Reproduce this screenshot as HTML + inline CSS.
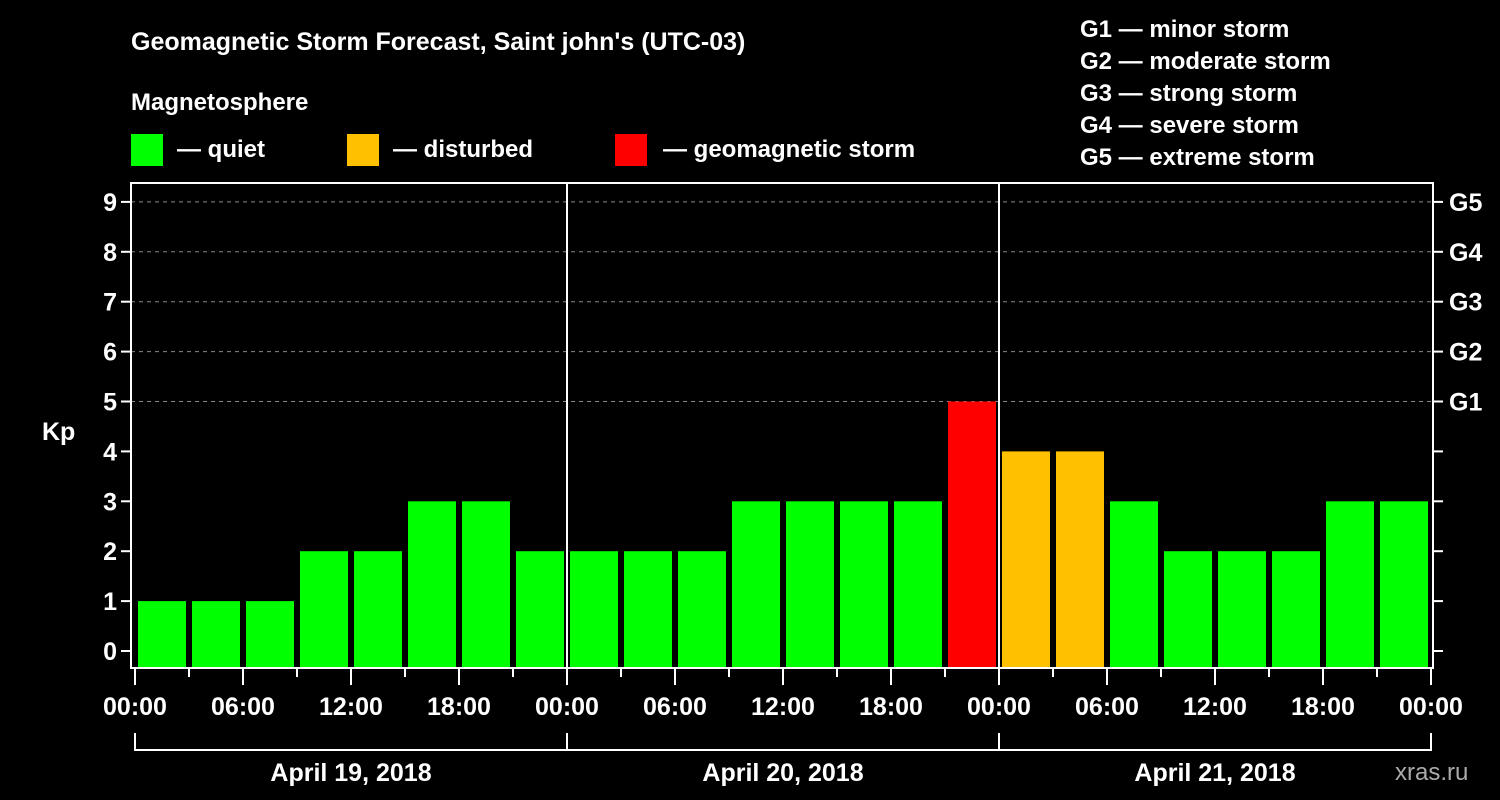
<!DOCTYPE html>
<html><head><meta charset="utf-8"><style>
body{margin:0;background:#000;}
svg{display:block;font-family:"Liberation Sans",sans-serif;font-weight:bold;fill:#fff;}
</style></head><body>
<svg width="1500" height="800">
<rect width="1500" height="800" fill="#000"/>
<text x="131" y="50" font-size="25">Geomagnetic Storm Forecast, Saint john's (UTC-03)</text>
<text x="131" y="110" font-size="24">Magnetosphere</text>
<g><rect x="131" y="134" width="32" height="32" fill="#00ff00"/><text x="177" y="157" font-size="24">— quiet</text></g>
<g><rect x="347" y="134" width="32" height="32" fill="#ffc000"/><text x="393" y="157" font-size="24">— disturbed</text></g>
<g><rect x="615" y="134" width="32" height="32" fill="#ff0000"/><text x="663" y="157" font-size="24">— geomagnetic storm</text></g>
<g font-size="24">
<text x="1080" y="37">G1 — minor storm</text>
<text x="1080" y="69">G2 — moderate storm</text>
<text x="1080" y="101">G3 — strong storm</text>
<text x="1080" y="133">G4 — severe storm</text>
<text x="1080" y="165">G5 — extreme storm</text>
</g>
<text x="42" y="440" font-size="25">Kp</text>
<g id="plot"></g>
<text x="1395" y="780" font-size="24" fill="#aaa" style="fill:#aaa;font-weight:normal">xras.ru</text>
</svg>
<script>
const values=[1,1,1,2,2,3,3,2, 2,2,2,3,3,3,3,5, 4,4,3,2,2,2,3,3];
const days=["April 19, 2018","April 20, 2018","April 21, 2018"];
const hourLabels=["00:00","06:00","12:00","18:00"];
const yTicks=[0,1,2,3,4,5,6,7,8,9];
const gLabels=["G1","G2","G3","G4","G5"];
const NS="http://www.w3.org/2000/svg";
const g=document.getElementById('plot');
const x0=135,slot=54,L=131,R=1433,T=183,B=668;
const y=v=>651-49.9*v;
const xs=i=>x0+slot*i;
function mk(t,a,p){const e=document.createElementNS(NS,t);for(const k in a)e.setAttribute(k,a[k]);(p||g).appendChild(e);return e;}
function col(v){return v>=5?"#ff0000":v>=4?"#ffc000":"#00ff00";}
// grid
for(const v of yTicks){
 if(v>=5){const l=mk('line',{x1:L,x2:R,y1:y(v),y2:y(v),stroke:'#888','stroke-dasharray':'4,4','stroke-width':1});
 
 }
 const tk=mk('line',{x1:L-10,x2:L,y1:y(v),y2:y(v),stroke:'#fff','stroke-width':2});
 
 
 const tr=mk('line',{x1:R,x2:R+10,y1:y(v),y2:y(v),stroke:'#fff','stroke-width':2});
 
 
 const t=mk('text',{x:L-14,y:y(v)+9,'font-size':25,'text-anchor':'end'});t.textContent=v;
 
 
}
gLabels.forEach((s,i)=>{const t=mk('text',{x:R+16,y:y(5+i)+9,'font-size':25});t.textContent=s;
 
 });
// bars
values.forEach((v,i)=>{const r=mk('rect',{x:xs(i)+3,y:y(v),width:48,height:B-1-y(v),fill:col(v)});
 
 });
// frame
const f=mk('rect',{x:L,y:T,width:R-L,height:B-T,fill:'none',stroke:'#fff','stroke-width':2});


for(let d=1;d<days.length;d++){const l=mk('line',{x1:xs(d*8),x2:xs(d*8),y1:T,y2:B,stroke:'#fff','stroke-width':2});
 
 }
// x ticks
for(let i=0;i<=values.length;i++){const major=i%2==0;
 const l=mk('line',{x1:xs(i),x2:xs(i),y1:B,y2:B+(major?17:9),stroke:'#fff','stroke-width':2});
 
 
 if(major){const t=mk('text',{x:xs(i),y:B+47,'font-size':25,'text-anchor':'middle'});t.textContent=hourLabels[(i/2)%4];
 
 }
}
days.forEach((d,k)=>{const a=xs(k*8),b=xs(k*8+8);
 const p=mk('path',{d:`M${a} 733V750H${b}V733`,fill:'none',stroke:'#fff','stroke-width':2});
 
 
 const t=mk('text',{x:(a+b)/2,y:781,'font-size':25,'text-anchor':'middle'});t.textContent=d;
 
 });
</script>
</body></html>
